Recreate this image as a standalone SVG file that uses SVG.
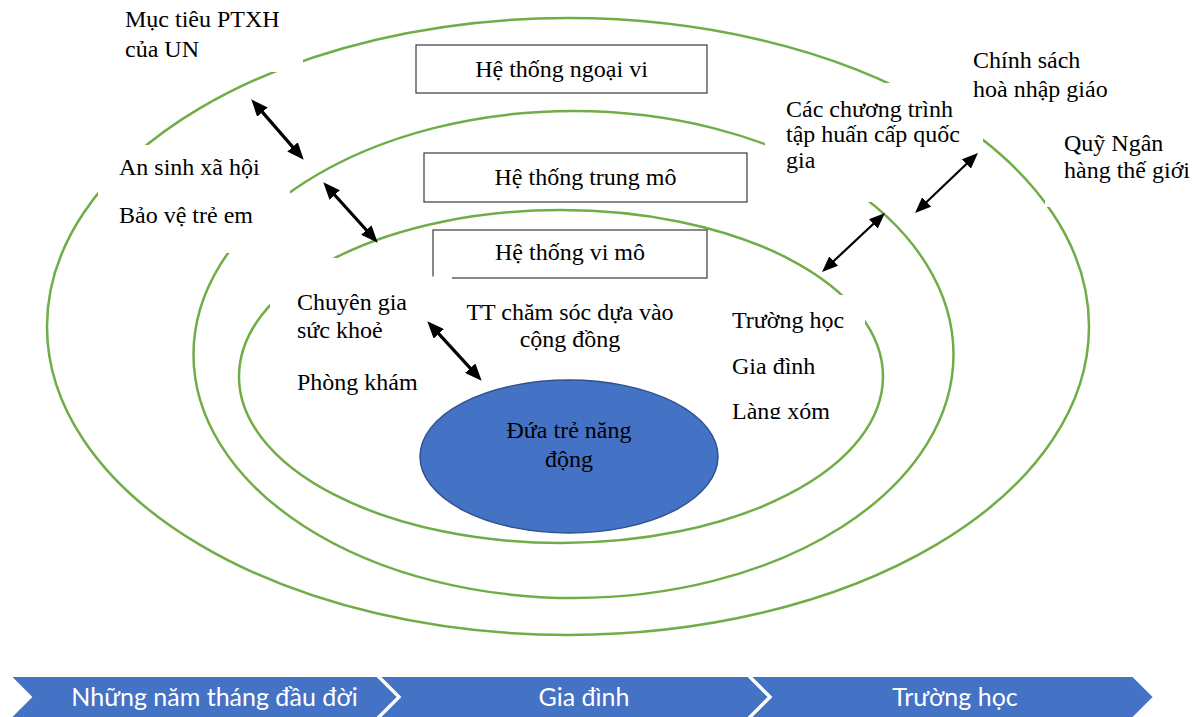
<svg xmlns="http://www.w3.org/2000/svg" width="1193" height="717" viewBox="0 0 1193 717">
<defs>
<style>
.ring{fill:none;stroke:#70AD47;stroke-width:2.5}
.mask{fill:#ffffff;stroke:none}
.box{fill:#ffffff;stroke:#3a3a3a;stroke-width:1.2}
.t{font-family:"Liberation Serif","Times New Roman",serif;font-size:24px;fill:#000}
.c{text-anchor:middle}
.chev{fill:#4472C4;stroke:#ffffff;stroke-width:2}
.ct{font-family:Lato,"Open Sans",sans-serif;font-size:25px;fill:#ffffff;text-anchor:middle}
.arL{stroke:#000;stroke-width:3.2;fill:none;marker-start:url(#hL);marker-end:url(#hL)}
.arR{stroke:#000;stroke-width:2.2;fill:none;marker-start:url(#hR);marker-end:url(#hR)}
</style>
<marker id="hL" markerUnits="userSpaceOnUse" markerWidth="18" markerHeight="14" refX="4" refY="7" orient="auto-start-reverse"><path d="M0,0 L17,7 L0,14 z" fill="#000"/></marker>
<marker id="hR" markerUnits="userSpaceOnUse" markerWidth="17" markerHeight="13" refX="4" refY="6.5" orient="auto-start-reverse"><path d="M0,0 L16,6.5 L0,13 z" fill="#000"/></marker>
<clipPath id="clipSchool"><rect x="720" y="295" width="145" height="124"/></clipPath>
</defs>

<g id="rings">
<ellipse id="ring-outer" class="ring" cx="568" cy="326.5" rx="521" ry="308.5"/>
<ellipse id="ring-middle" class="ring" cx="573.5" cy="354.5" rx="380" ry="243.5"/>
<ellipse id="ring-inner" class="ring" cx="561" cy="376.5" rx="322" ry="166.5"/>
</g>

<g id="label-masks">
<rect class="mask" x="110" y="0" width="193" height="72"/>
<rect class="mask" x="98" y="145" width="192" height="108"/>
<rect class="mask" x="765" y="83" width="218" height="119"/>
<rect class="mask" x="1045" y="125" width="148" height="82"/>
<rect class="mask" x="720" y="295" width="145" height="124"/>
<rect class="mask" x="270" y="258" width="150" height="142"/>
</g>

<g id="node-ngoai-vi">
<rect class="box" x="416" y="45" width="291" height="48"/>
<text class="t c" x="561.5" y="77">Hệ thống ngoại vi</text>
</g>
<g id="node-trung-mo">
<rect class="box" x="424" y="153" width="323" height="49"/>
<text class="t c" x="585.5" y="185">Hệ thống trung mô</text>
</g>
<g id="node-vi-mo">
<rect class="box" x="433" y="230" width="274" height="48"/>
<rect class="mask" x="432" y="276.5" width="20" height="3"/>
<text class="t c" x="570" y="260">Hệ thống vi mô</text>
</g>

<g id="node-child">
<ellipse cx="569" cy="456.5" rx="149" ry="76.5" fill="#4472C4" stroke="#2F528F" stroke-width="1.5"/>
<text class="t c" x="569" y="438">Đứa trẻ năng</text>
<text class="t c" x="569" y="467">động</text>
</g>

<g id="label-un">
<text class="t" x="125" y="27">Mục tiêu PTXH</text>
<text class="t" x="125" y="57">của UN</text>
</g>
<g id="label-ansinh">
<text class="t" x="119" y="175">An sinh xã hội</text>
<text class="t" x="119" y="223">Bảo vệ trẻ em</text>
</g>
<g id="label-taphuan">
<text class="t" x="786" y="117">Các chương trình</text>
<text class="t" x="786" y="142">tập huấn cấp quốc</text>
<text class="t" x="786" y="168">gia</text>
</g>
<g id="label-chinhsach">
<text class="t" x="973" y="68">Chính sách</text>
<text class="t" x="973" y="97">hoà nhập giáo</text>
</g>
<g id="label-quy">
<text class="t" x="1064" y="151">Quỹ Ngân</text>
<text class="t" x="1064" y="178">hàng thế giới</text>
</g>
<g id="label-chuyengia">
<text class="t" x="297" y="310">Chuyên gia</text>
<text class="t" x="297" y="338">sức khoẻ</text>
<text class="t" x="297" y="390">Phòng khám</text>
</g>
<g id="label-tt">
<text class="t c" x="570" y="320">TT chăm sóc dựa vào</text>
<text class="t c" x="570" y="347">cộng đồng</text>
</g>
<g id="label-truonghoc" clip-path="url(#clipSchool)">
<text class="t" x="732" y="328">Trường học</text>
<text class="t" x="732" y="374">Gia đình</text>
<text class="t" x="732" y="419">Làng xóm</text>
</g>

<g id="connectors">
<line class="arL" x1="259.8" y1="109.1" x2="295.2" y2="149.9"/>
<line class="arL" x1="332" y1="192" x2="369" y2="233"/>
<line class="arL" x1="436.1" y1="330.9" x2="472.9" y2="371.1"/>
<line class="arR" x1="969.3" y1="161.3" x2="923.7" y2="204.7"/>
<line class="arR" x1="876.2" y1="221.2" x2="830.8" y2="263.8"/>
</g>

<g id="timeline">
<g id="step-1">
<polygon class="chev" points="10,676 377,676 398,697 377,718 10,718 31,697"/>
<text class="ct" x="214.5" y="706">Những năm tháng đầu đời</text>
</g>
<g id="step-2">
<polygon class="chev" points="379,676 748,676 769,697 748,718 379,718 400,697"/>
<text class="ct" x="584" y="706">Gia đình</text>
</g>
<g id="step-3">
<polygon class="chev" points="750,676 1133,676 1154,697 1133,718 750,718 771,697"/>
<text class="ct" x="955" y="706">Trường học</text>
</g>
</g>
</svg>
